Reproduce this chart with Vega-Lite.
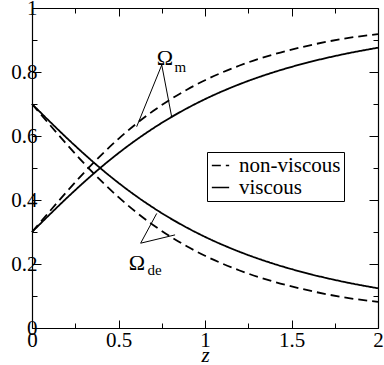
{
  "$schema": "https://vega.github.io/schema/vega-lite/v6.json",
  "width": 346,
  "height": 320,
  "autosize": "none",
  "padding": {"left": 32, "top": 8, "right": 6, "bottom": 37},
  "datasets": {
    "curves": [
      {"z": 0.0, "Omega": 0.3, "param": "m", "model": "non-viscous"},
      {"z": 0.1, "Omega": 0.3632, "param": "m", "model": "non-viscous"},
      {"z": 0.2, "Omega": 0.4255, "param": "m", "model": "non-viscous"},
      {"z": 0.3, "Omega": 0.485, "param": "m", "model": "non-viscous"},
      {"z": 0.4, "Omega": 0.5404, "param": "m", "model": "non-viscous"},
      {"z": 0.5, "Omega": 0.5912, "param": "m", "model": "non-viscous"},
      {"z": 0.6, "Omega": 0.6371, "param": "m", "model": "non-viscous"},
      {"z": 0.7, "Omega": 0.678, "param": "m", "model": "non-viscous"},
      {"z": 0.8, "Omega": 0.7142, "param": "m", "model": "non-viscous"},
      {"z": 0.9, "Omega": 0.7462, "param": "m", "model": "non-viscous"},
      {"z": 1.0, "Omega": 0.7742, "param": "m", "model": "non-viscous"},
      {"z": 1.2, "Omega": 0.8203, "param": "m", "model": "non-viscous"},
      {"z": 1.4, "Omega": 0.8556, "param": "m", "model": "non-viscous"},
      {"z": 1.6, "Omega": 0.8828, "param": "m", "model": "non-viscous"},
      {"z": 1.8, "Omega": 0.9039, "param": "m", "model": "non-viscous"},
      {"z": 2.0, "Omega": 0.9185, "param": "m", "model": "non-viscous"},
      {"z": 0.0, "Omega": 0.7, "param": "de", "model": "non-viscous"},
      {"z": 0.1, "Omega": 0.6368, "param": "de", "model": "non-viscous"},
      {"z": 0.2, "Omega": 0.5745, "param": "de", "model": "non-viscous"},
      {"z": 0.3, "Omega": 0.515, "param": "de", "model": "non-viscous"},
      {"z": 0.4, "Omega": 0.4596, "param": "de", "model": "non-viscous"},
      {"z": 0.5, "Omega": 0.4088, "param": "de", "model": "non-viscous"},
      {"z": 0.6, "Omega": 0.3629, "param": "de", "model": "non-viscous"},
      {"z": 0.7, "Omega": 0.322, "param": "de", "model": "non-viscous"},
      {"z": 0.8, "Omega": 0.2858, "param": "de", "model": "non-viscous"},
      {"z": 0.9, "Omega": 0.2538, "param": "de", "model": "non-viscous"},
      {"z": 1.0, "Omega": 0.2258, "param": "de", "model": "non-viscous"},
      {"z": 1.2, "Omega": 0.1797, "param": "de", "model": "non-viscous"},
      {"z": 1.4, "Omega": 0.1444, "param": "de", "model": "non-viscous"},
      {"z": 1.6, "Omega": 0.1172, "param": "de", "model": "non-viscous"},
      {"z": 1.8, "Omega": 0.0961, "param": "de", "model": "non-viscous"},
      {"z": 2.0, "Omega": 0.0815, "param": "de", "model": "non-viscous"},
      {"z": 0.0, "Omega": 0.3, "param": "m", "model": "viscous"},
      {"z": 0.1, "Omega": 0.3534, "param": "m", "model": "viscous"},
      {"z": 0.2, "Omega": 0.4056, "param": "m", "model": "viscous"},
      {"z": 0.3, "Omega": 0.4555, "param": "m", "model": "viscous"},
      {"z": 0.4, "Omega": 0.5027, "param": "m", "model": "viscous"},
      {"z": 0.5, "Omega": 0.5465, "param": "m", "model": "viscous"},
      {"z": 0.6, "Omega": 0.5869, "param": "m", "model": "viscous"},
      {"z": 0.7, "Omega": 0.6238, "param": "m", "model": "viscous"},
      {"z": 0.8, "Omega": 0.6574, "param": "m", "model": "viscous"},
      {"z": 0.9, "Omega": 0.6877, "param": "m", "model": "viscous"},
      {"z": 1.0, "Omega": 0.7151, "param": "m", "model": "viscous"},
      {"z": 1.2, "Omega": 0.7619, "param": "m", "model": "viscous"},
      {"z": 1.4, "Omega": 0.7998, "param": "m", "model": "viscous"},
      {"z": 1.6, "Omega": 0.8305, "param": "m", "model": "viscous"},
      {"z": 1.8, "Omega": 0.8555, "param": "m", "model": "viscous"},
      {"z": 2.0, "Omega": 0.8759, "param": "m", "model": "viscous"},
      {"z": 0.0, "Omega": 0.7, "param": "de", "model": "viscous"},
      {"z": 0.1, "Omega": 0.6466, "param": "de", "model": "viscous"},
      {"z": 0.2, "Omega": 0.5944, "param": "de", "model": "viscous"},
      {"z": 0.3, "Omega": 0.5445, "param": "de", "model": "viscous"},
      {"z": 0.4, "Omega": 0.4973, "param": "de", "model": "viscous"},
      {"z": 0.5, "Omega": 0.4535, "param": "de", "model": "viscous"},
      {"z": 0.6, "Omega": 0.4131, "param": "de", "model": "viscous"},
      {"z": 0.7, "Omega": 0.3762, "param": "de", "model": "viscous"},
      {"z": 0.8, "Omega": 0.3426, "param": "de", "model": "viscous"},
      {"z": 0.9, "Omega": 0.3123, "param": "de", "model": "viscous"},
      {"z": 1.0, "Omega": 0.2849, "param": "de", "model": "viscous"},
      {"z": 1.2, "Omega": 0.2381, "param": "de", "model": "viscous"},
      {"z": 1.4, "Omega": 0.2002, "param": "de", "model": "viscous"},
      {"z": 1.6, "Omega": 0.1695, "param": "de", "model": "viscous"},
      {"z": 1.8, "Omega": 0.1445, "param": "de", "model": "viscous"},
      {"z": 2.0, "Omega": 0.1241, "param": "de", "model": "viscous"}
    ],
    "pointers": [
      {"x": 0.75, "y": 0.822, "x2": 0.605, "y2": 0.629},
      {"x": 0.75, "y": 0.822, "x2": 0.808, "y2": 0.658},
      {"x": 0.628, "y": 0.265, "x2": 0.721, "y2": 0.358},
      {"x": 0.628, "y": 0.265, "x2": 0.827, "y2": 0.291}
    ],
    "symbols": [
      {"x": 0.769, "y": 0.822, "label": "Ω"},
      {"x": 0.607, "y": 0.181, "label": "Ω"}
    ],
    "subscripts": [
      {"x": 0.858, "y": 0.8, "label": "m"},
      {"x": 0.708, "y": 0.165, "label": "de"}
    ]
  },
  "layer": [
    {
      "data": {"name": "curves"},
      "mark": {"type": "line", "color": "black", "strokeWidth": 1.8, "interpolate": "monotone"},
      "encoding": {
        "x": {
          "field": "z", "type": "quantitative",
          "scale": {"domain": [0, 2], "nice": false, "zero": false},
          "axis": {
            "orient": "bottom",
            "title": "z",
            "titleFontStyle": "italic",
            "titleFontWeight": "normal",
            "titleFontSize": 21,
            "titleBaseline": "alphabetic",
            "titleY": 33,
            "values": [0, 0.25, 0.5, 0.75, 1, 1.25, 1.5, 1.75, 2],
            "labelExpr": "round(datum.value*4) % 2 == 0 ? '' + datum.value : ''",
            "tickSize": {"condition": {"test": "round(datum.value*4) % 2 == 0", "value": -8}, "value": -5},
            "labelPadding": 9,
            "labelFlush": false,
            "labelOverlap": false
          }
        },
        "y": {
          "field": "Omega", "type": "quantitative",
          "scale": {"domain": [0, 1], "nice": false},
          "axis": {
            "orient": "left",
            "title": null,
            "values": [0, 0.1, 0.2, 0.3, 0.4, 0.5, 0.6, 0.7, 0.8, 0.9, 1],
            "labelExpr": "round(datum.value*10) % 2 == 0 ? '' + datum.value : ''",
            "tickSize": {"condition": {"test": "round(datum.value*10) % 2 == 0", "value": -9}, "value": -5},
            "labelPadding": 4,
            "labelFlush": false,
            "labelOverlap": false
          }
        },
        "detail": {"field": "param"},
        "strokeDash": {
          "field": "model", "type": "nominal",
          "scale": {"domain": ["non-viscous", "viscous"], "range": [[9, 5], [1, 0]]},
          "legend": {
            "title": null,
            "orient": "none",
            "legendX": 175,
            "legendY": 144,
            "strokeColor": "black",
            "fillColor": "white",
            "padding": 3,
            "labelFont": "Liberation Serif",
            "labelFontSize": 21,
            "labelColor": "black",
            "symbolType": "stroke",
            "symbolStrokeColor": "black",
            "symbolStrokeWidth": 1.5,
            "symbolSize": 300,
            "labelOffset": 8,
            "rowPadding": 0
          }
        }
      }
    },
    {
      "data": {"name": "pointers"},
      "mark": {"type": "rule", "color": "black", "strokeWidth": 1},
      "encoding": {
        "x": {
          "field": "x", "type": "quantitative",
          "axis": {
            "orient": "top",
            "title": null,
            "labels": false,
            "values": [0, 0.25, 0.5, 0.75, 1, 1.25, 1.5, 1.75, 2],
            "tickSize": {"condition": {"test": "round(datum.value*4) % 2 == 0", "value": -8}, "value": -5}
          }
        },
        "y": {
          "field": "y", "type": "quantitative",
          "axis": {
            "orient": "right",
            "title": null,
            "labels": false,
            "values": [0, 0.1, 0.2, 0.3, 0.4, 0.5, 0.6, 0.7, 0.8, 0.9, 1],
            "tickSize": {"condition": {"test": "round(datum.value*10) % 2 == 0", "value": -9}, "value": -5}
          }
        },
        "x2": {"field": "x2"},
        "y2": {"field": "y2"}
      }
    },
    {
      "data": {"name": "symbols"},
      "mark": {"type": "text", "font": "Liberation Serif", "fontSize": 22, "color": "black", "align": "center", "baseline": "alphabetic"},
      "encoding": {
        "x": {"field": "x", "type": "quantitative", "axis": null},
        "y": {"field": "y", "type": "quantitative", "axis": null},
        "text": {"field": "label"}
      }
    },
    {
      "data": {"name": "subscripts"},
      "mark": {"type": "text", "font": "Liberation Serif", "fontSize": 15, "color": "black", "align": "center", "baseline": "alphabetic"},
      "encoding": {
        "x": {"field": "x", "type": "quantitative", "axis": null},
        "y": {"field": "y", "type": "quantitative", "axis": null},
        "text": {"field": "label"}
      }
    }
  ],
  "resolve": {"axis": {"x": "independent", "y": "independent"}},
  "config": {
    "view": {"stroke": null},
    "axis": {
      "grid": false,
      "domainColor": "black",
      "domainWidth": 1.2,
      "tickColor": "black",
      "tickWidth": 1,
      "labelColor": "black",
      "labelFont": "Liberation Serif",
      "labelFontSize": 21,
      "titleFont": "Liberation Serif",
      "titleColor": "black"
    }
  }
}
